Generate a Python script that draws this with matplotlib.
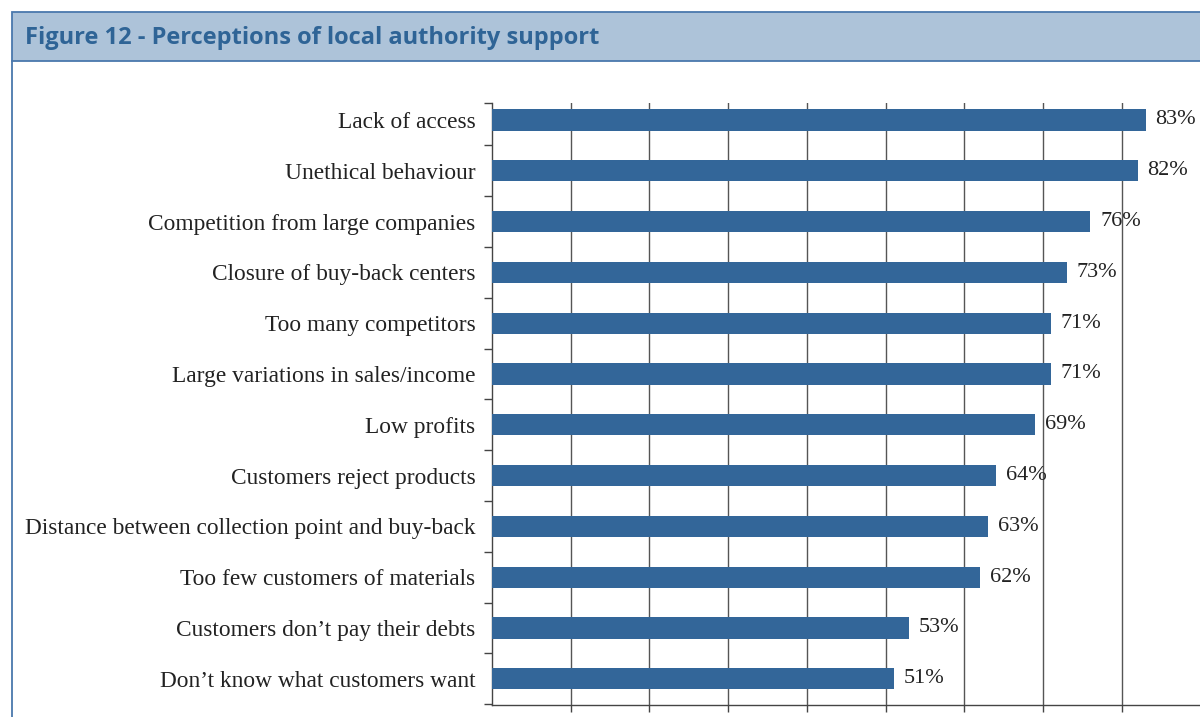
import matplotlib
matplotlib.use("Agg")
import matplotlib.pyplot as plt
from matplotlib.patches import Rectangle
from matplotlib.lines import Line2D

categories = [
    "Lack of access",
    "Unethical behaviour",
    "Competition from large companies",
    "Closure of buy-back centers",
    "Too many competitors",
    "Large variations in sales/income",
    "Low profits",
    "Customers reject products",
    "Distance between collection point and buy-back",
    "Too few customers of materials",
    "Customers don\u2019t pay their debts",
    "Don\u2019t know what customers want",
]
values = [83, 82, 76, 73, 71, 71, 69, 64, 63, 62, 53, 51]
title = "Figure 12 - Perceptions of local authority support"

W, H = 1200, 717
fig = plt.figure(figsize=(W / 100, H / 100), dpi=100)
fig.patch.set_facecolor("white")

def fx(px):
    return px / W

def fy(py):
    return 1 - py / H

border = "#4a78ad"
# Header band
fig.patches.append(Rectangle((fx(12), fy(61)), fx(1250 - 12), fy(12) - fy(61),
                             transform=fig.transFigure, facecolor="#adc3d9",
                             edgecolor=border, linewidth=1.3))
fig.lines.append(Line2D([fx(12), fx(12)], [fy(61), 0], transform=fig.transFigure,
                        color=border, linewidth=1.3))
fig.text(fx(25), fy(38), title, fontsize=17, fontweight="bold", color="#2f6496",
         family=["Open Sans", "DejaVu Sans"], va="center", ha="left")

# Plot area
x0, x_end = 492, 1200.75
top_px, bot_px = 103, 705
ax = fig.add_axes([fx(x0), fy(bot_px), fx(x_end - x0), (bot_px - top_px) / H])
n = len(categories)
pos = list(range(n))
ax.barh(pos, values, height=0.42, color="#336699", zorder=3)
ax.set_xlim(0, 90)
y_top = (top_px - 120) / 50.8
y_bot = (bot_px - 120) / 50.8
ax.set_ylim(y_bot, y_top)

ax.set_xticks(range(10, 91, 10))
ax.set_xticklabels([])
ax.tick_params(axis="x", length=5, width=1, color="#444", direction="out")
ax.grid(axis="x", color="#555555", linewidth=1.0, zorder=0)

ax.set_yticks(pos)
ax.set_yticklabels(categories, fontsize=16.8, family="Liberation Serif", color="#222222")
ax.tick_params(axis="y", which="major", length=0, pad=12)
ax.set_yticks([y_top] + [i + 0.5 for i in range(n)], minor=True)
ax.tick_params(axis="y", which="minor", length=6, width=1, color="#444")

for s in ("top", "right"):
    ax.spines[s].set_visible(False)
for s in ("left", "bottom"):
    ax.spines[s].set_color("#444444")
    ax.spines[s].set_linewidth(1.0)

for i, v in enumerate(values):
    ax.annotate(f"{v}%", (v, i), xytext=(7, 0), textcoords="offset points",
                va="center", ha="left", fontsize=16, family="Liberation Serif",
                color="#222222", zorder=4)

fig.savefig("out.png", dpi=100)
